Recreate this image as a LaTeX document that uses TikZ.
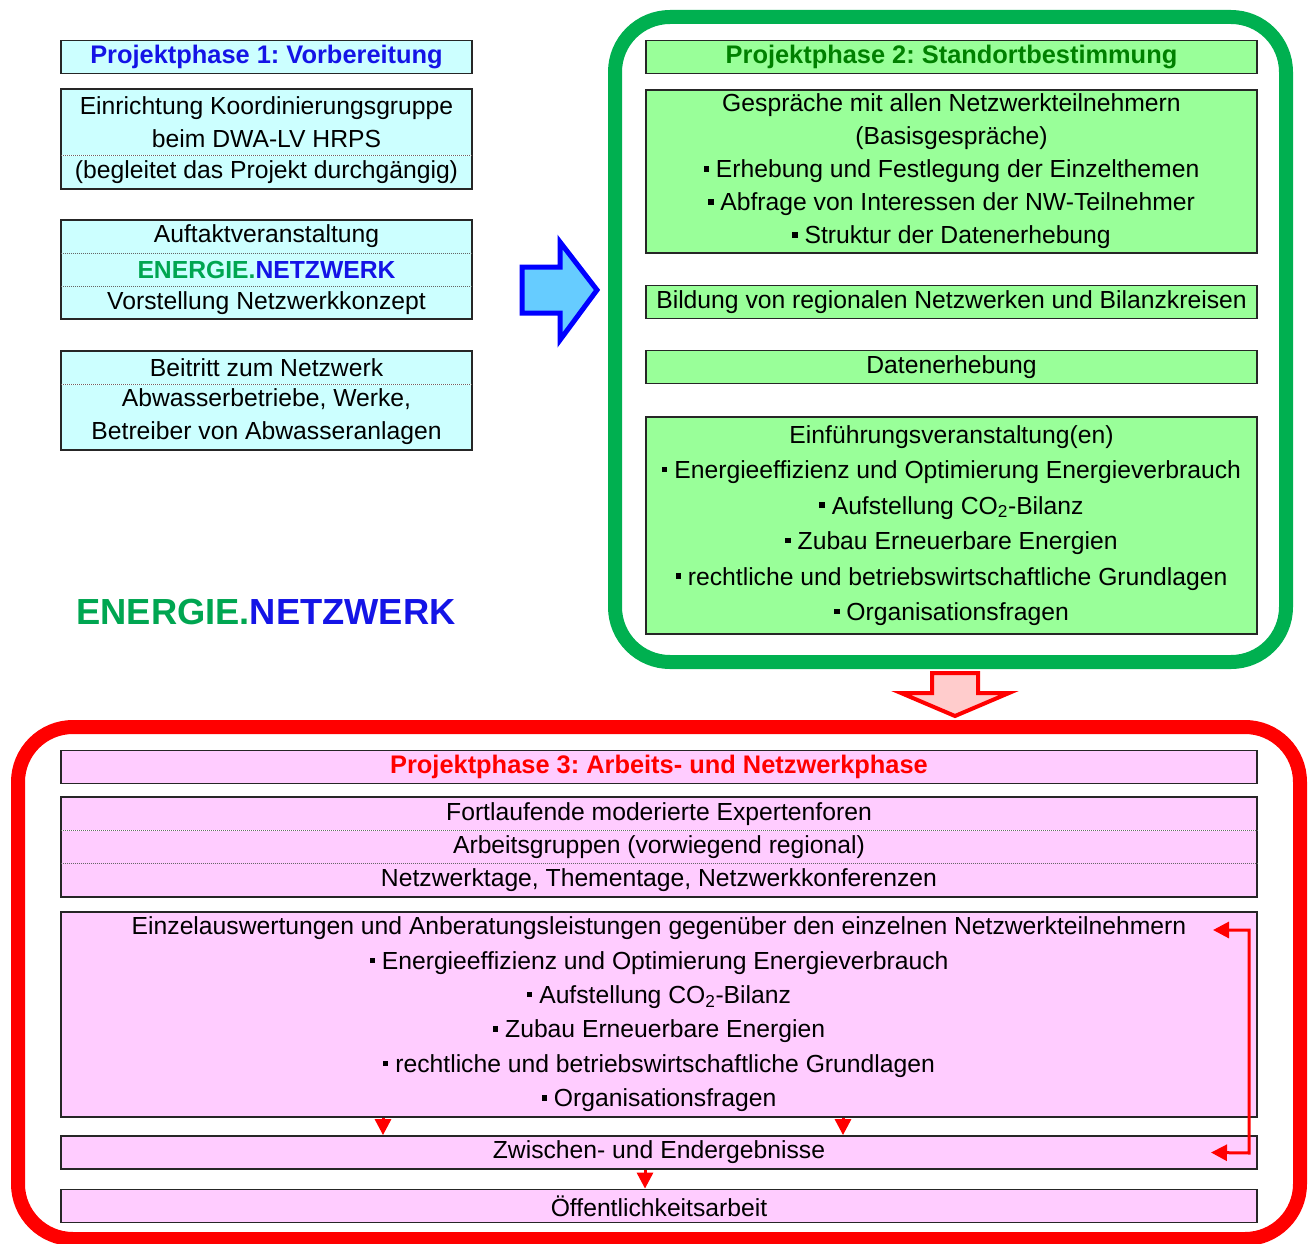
\documentclass[tikz,border=0pt]{standalone}
\usepackage{fontspec}
\setmainfont{Liberation Sans}
\usetikzlibrary{arrows.meta, positioning, fit, calc}
\definecolor{cyanfill}{RGB}{204,255,255}
\definecolor{greenfill}{RGB}{153,255,153}
\definecolor{pinkfill}{RGB}{255,204,255}
\definecolor{phaseblue}{RGB}{20,20,230}
\definecolor{phasegreen}{RGB}{0,128,0}
\definecolor{framegreen}{RGB}{0,176,80}
\definecolor{energygreen}{RGB}{0,166,81}
\definecolor{arrowblue}{RGB}{102,204,255}
\definecolor{arrowpink}{RGB}{255,204,204}
\newcommand{\sq}{\rule[0.25em]{0.22em}{0.22em}\ }
\frenchspacing
\tikzset{
    rowbox/.style={
        rectangle, inner sep=0pt, minimum height=33, align=center,
        font=\fontsize{24.7}{33}\selectfont
    },
    p1row/.style={rowbox, fill=cyanfill, minimum width=411},
    p2row/.style={rowbox, fill=greenfill, minimum width=611},
    p3row/.style={rowbox, fill=pinkfill, minimum width=1196},
    boxline/.style={draw=black!85, line width=1.8},
    boxframe/.style={boxline, inner sep=0pt, fit=#1},
    titletext/.style={font=\fontsize{25.4}{33}\selectfont\bfseries},
    sepline/.style={draw=black!60, line width=1, dash pattern=on 1 off 1},
    phaseframe/.style={line width=14, rounded corners=55},
    bigarrow/.style={line join=miter},
    flow/.style={draw=red, line width=3, -{Triangle[length=16, width=16]}}
}

\begin{document}
\begin{tikzpicture}[x=1pt, y=-1pt]
\useasboundingbox (0,0) rectangle (1312,1244);

% Phase 1
\node[p1row, boxline, titletext, text=phaseblue] (ph1) at (266.5,57) {Projektphase 1: Vorbereitung};
\node[p1row, minimum height=66, anchor=north] (koord) at (266.5,89) {Einrichtung Koordinierungsgruppe\\beim DWA-LV HRPS};
\node[p1row, below=0pt of koord] (koordb) {(begleitet das Projekt durchgängig)};
\node[boxframe={(koord)(koordb)}] {};
\draw[sepline] (koord.south west) -- (koord.south east);

\node[p1row, anchor=north, minimum height=32.7] (kick) at (266.5,220) {Auftaktveranstaltung};
\node[p1row, minimum height=32.7, below=0pt of kick] (kicka) {\bfseries\textcolor{energygreen}{ENERGIE.}\textcolor{phaseblue}{NETZWERK}};
\node[p1row, minimum height=32.7, below=0pt of kicka] (kickb) {Vorstellung Netzwerkkonzept};
\node[boxframe={(kick)(kickb)}] {};
\draw[sepline] (kick.south west) -- (kick.south east);
\draw[sepline] (kicka.south west) -- (kicka.south east);

\node[p1row, anchor=north] (join) at (266.5,351) {Beitritt zum Netzwerk};
\node[p1row, minimum height=65, below=0pt of join] (joinb) {Abwasserbetriebe, Werke,\\Betreiber von Abwasseranlagen};
\node[boxframe={(join)(joinb)}] {};
\draw[sepline] (join.south west) -- (join.south east);

\node[font=\fontsize{36.3}{40}\selectfont\bfseries] (logo) at (266,612) {\textcolor{energygreen}{ENERGIE.}\textcolor{phaseblue}{NETZWERK}};

% Arrow to phase 2
\draw[bigarrow, draw=blue, line width=5, fill=arrowblue] (522,267) -- (560,267) -- (560,242) -- (597,290) -- (560,340) -- (560,313) -- (522,313) -- cycle;

% Phase 2
\draw[phaseframe, draw=framegreen] (615,17) rectangle (1286,662);
\node[p2row, boxline, titletext, text=phasegreen] (ph2) at (951.5,57) {Projektphase 2: Standortbestimmung};
\node[p2row, boxline, anchor=north, minimum height=163] (talks) at (951.5,89) {Gespräche mit allen Netzwerkteilnehmern\\(Basisgespräche)\\\sq Erhebung und Festlegung der Einzelthemen\\\sq Abfrage von Interessen der NW-Teilnehmer\\\sq Struktur der Datenerhebung};
\node[p2row, boxline] (region) at (951.5,302) {Bildung von regionalen Netzwerken und Bilanzkreisen};
\node[p2row, boxline] (data) at (951.5,367) {Datenerhebung};
\node[p2row, boxline, anchor=north, minimum height=217, font=\fontsize{24.7}{35.5}\selectfont] (intro) at (951.5,416) {Einführungsveranstaltung(en)\\\sq Energieeffizienz und Optimierung Energieverbrauch\\\sq Aufstellung CO\textsubscript{2}-Bilanz\\\sq Zubau Erneuerbare Energien\\\sq rechtliche und betriebswirtschaftliche Grundlagen\\\sq Organisationsfragen};

% Arrow to phase 3
\draw[bigarrow, draw=red, line width=4, fill=arrowpink] (932,673) -- (978,673) -- (978,693) -- (1009,693) -- (955,716) -- (901,693) -- (932,693) -- cycle;

% Phase 3
\draw[phaseframe, draw=red] (18,727) rectangle (1300,1239);
\node[p3row, boxline, titletext, text=red] (ph3) at (659,767) {Projektphase 3: Arbeits- und Netzwerkphase};
\node[p3row, anchor=north] (forum) at (659,797) {Fortlaufende moderierte Expertenforen};
\node[p3row, below=0pt of forum] (groups) {Arbeitsgruppen (vorwiegend regional)};
\node[p3row, below=0pt of groups] (days) {Netzwerktage, Thementage, Netzwerkkonferenzen};
\node[boxframe={(forum)(days)}] {};
\draw[sepline] (forum.south west) -- (forum.south east);
\draw[sepline] (groups.south west) -- (groups.south east);
\node[p3row, boxline, anchor=north, minimum height=205, font=\fontsize{24.7}{34.4}\selectfont] (single) at (659,911) {Einzelauswertungen und Anberatungsleistungen gegenüber den einzelnen Netzwerkteilnehmern\\\sq Energieeffizienz und Optimierung Energieverbrauch\\\sq Aufstellung CO\textsubscript{2}-Bilanz\\\sq Zubau Erneuerbare Energien\\\sq rechtliche und betriebswirtschaftliche Grundlagen\\\sq Organisationsfragen};
\node[p3row, boxline] (result) at (659,1152.5) {Zwischen- und Endergebnisse};
\node[p3row, boxline] (public) at (659,1206) {Öffentlichkeitsarbeit};

% Flow arrows
\draw[flow] (single.south -| 383,0) -- (result.north -| 383,0);
\draw[flow] (single.south -| 843,0) -- (result.north -| 843,0);
\draw[flow] (result.south -| 645,0) -- (public.north -| 645,0);
\coordinate (loopin) at (1213,930);
\coordinate (loopa) at (1249,930);
\coordinate (loopb) at (1249,1153);
\draw[flow, {Triangle[length=16, width=16]}-{Triangle[length=16, width=16]}] (loopin) -- (loopa) -- (loopb) -- (result.east -| 1211,0);

\end{tikzpicture}
\end{document}
